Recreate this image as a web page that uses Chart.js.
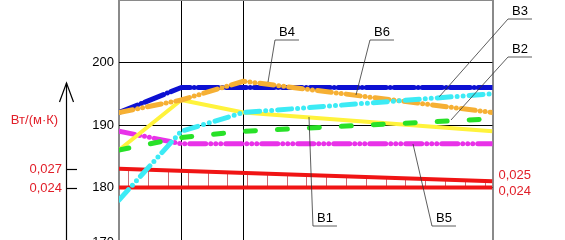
<!DOCTYPE html>
<html><head><meta charset="utf-8">
<script src="https://cdn.jsdelivr.net/npm/chart.js@4.4.1/dist/chart.umd.min.js"></script>
<style>html,body{margin:0;padding:0;background:#fff;overflow:hidden}#wrap{width:565px;height:240px;overflow:hidden;position:relative}canvas{display:block}</style>
</head><body><div id="wrap"><canvas id="c" width="565" height="250"></canvas></div>
<script>
// ---- data ----
const xPositions = [0, 1, 2, 6];
const seriesCyan = [178, 189, 192, 195];
const seriesOrange = [192, 194, 197, 192];
const seriesBlue = [192, 196, 196, 196];
const seriesGreen = [186, 188, 189, 191];
const seriesYellow = [186, 194, 192, 189];
const seriesMagenta = [189, 187, 187, 187];
const kX = [0, 6];
const kUpper = [0.027, 0.025];
const kLower = [0.024, 0.024];
const yTickValues = [170, 180, 190, 200, 210];
const xGridValues = [0, 1, 2, 6];
const hatchX = [0.15, 0.468, 0.786, 1.104, 1.422, 1.74, 2.058, 2.376, 2.694, 3.012, 3.33, 3.648, 3.966, 4.284, 4.602, 4.92, 5.238, 5.556, 5.874];
const unitLabel = 'Вт/(м·К)';
const calloutLabels = ['B4', 'B6', 'B3', 'B2', 'B1', 'B5'];
const calloutTargets = [[2.394, 196.88], [3.807, 194.8], [5.145, 194.53], [5.333, 190.8], [3.052, 191.28], [4.723, 186.96]];
const calloutElbows = [[2.506, 203.6], [4.032, 203.6], [6.249, 206.96], [6.249, 200.88], [3.116, 173.84], [5.028, 173.84]];

const FONT = '"Liberation Sans", Arial, sans-serif';
const RED_TXT = 'rgb(225,30,40)';
const fmtK = v => v.toFixed(3).replace('.', ',');
const pts = arr => xPositions.map((x, i) => ({x: x, y: arr[i]}));
const kpts = arr => kX.map((x, i) => ({x: x, y: arr[i]}));

const decor = {
  id: 'decor',
  beforeDatasetsDraw(chart) {
    const {ctx, scales: {x, k}} = chart;
    ctx.save();
    ctx.strokeStyle = 'rgb(205,105,115)';
    ctx.lineWidth = 1;
    const x0 = kX[0], x1 = kX[kX.length - 1];
    hatchX.forEach(v => {
      const t = (v - x0) / (x1 - x0);
      const top = kUpper[0] + (kUpper[1] - kUpper[0]) * t;
      const bot = kLower[0] + (kLower[1] - kLower[0]) * t;
      const px = Math.round(x.getPixelForValue(v)) + 0.5;
      ctx.beginPath();
      ctx.moveTo(px, k.getPixelForValue(bot));
      ctx.lineTo(px, k.getPixelForValue(top));
      ctx.stroke();
    });
    ctx.restore();
  },
  afterDraw(chart) {
    const {ctx, scales: {x, y, k}} = chart;
    ctx.save();
    // secondary (conductivity) axis
    const ax = 66.5;
    ctx.strokeStyle = '#000';
    ctx.lineWidth = 1.2;
    ctx.beginPath();
    ctx.moveTo(ax, 83); ctx.lineTo(ax, 260);
    ctx.stroke();
    ctx.beginPath();
    ctx.moveTo(59.5, 102); ctx.lineTo(ax, 83); ctx.lineTo(73.5, 102);
    ctx.stroke();
    ctx.font = '13px ' + FONT;
    ctx.textBaseline = 'middle';
    ctx.fillStyle = RED_TXT;
    [kUpper[0], kLower[0]].forEach(v => {
      const py = Math.round(k.getPixelForValue(v)) + 0.5;
      ctx.beginPath(); ctx.moveTo(ax, py); ctx.lineTo(77, py); ctx.stroke();
      ctx.textAlign = 'right';
      ctx.fillText(fmtK(v), 62, py);
    });
    ctx.textAlign = 'center';
    ctx.fillText(unitLabel, 34.5, 120);
    ctx.textAlign = 'left';
    const xr = x.getPixelForValue(kX[kX.length - 1]) + 6;
    ctx.fillText(fmtK(kUpper[kUpper.length - 1]), xr, k.getPixelForValue(kUpper[kUpper.length - 1]) - 6);
    ctx.fillText(fmtK(kLower[kLower.length - 1]), xr, k.getPixelForValue(kLower[kLower.length - 1]) + 3.5);
    // bottom tick label of main axis
    ctx.fillStyle = '#000';
    ctx.textAlign = 'right';
    ctx.fillText(String(yTickValues[0]), x.left - 5, y.getPixelForValue(yTickValues[0]) - 8);
    // callouts
    ctx.strokeStyle = '#333';
    ctx.lineWidth = 0.8;
    ctx.textAlign = 'left';
    ctx.textBaseline = 'alphabetic';
    calloutLabels.forEach((lab, i) => {
      const tx = x.getPixelForValue(calloutTargets[i][0]), ty = y.getPixelForValue(calloutTargets[i][1]);
      const ex = x.getPixelForValue(calloutElbows[i][0]), ey = y.getPixelForValue(calloutElbows[i][1]);
      ctx.beginPath();
      ctx.moveTo(tx, ty); ctx.lineTo(ex, ey); ctx.lineTo(ex + 24, ey);
      ctx.stroke();
      ctx.fillText(lab, ex + 4, ey - 4);
    });
    ctx.restore();
  }
};

const base = {pointRadius: 0, pointHoverRadius: 0, tension: 0, fill: false, borderJoinStyle: 'round'};

new Chart(document.getElementById('c'), {
  type: 'line',
  data: {
    datasets: [
      Object.assign({}, base, {label: 'B3', data: pts(seriesCyan), borderColor: 'rgb(60,235,245)', borderWidth: 5, borderCapStyle: 'round', borderDash: [14, 6, 0, 6, 0, 6]}),
      Object.assign({}, base, {label: 'B4', data: pts(seriesOrange), borderColor: 'rgb(246,176,52)', borderWidth: 5, borderCapStyle: 'round', borderDash: [14, 5, 0, 5, 0, 5]}),
      Object.assign({}, base, {label: 'B6', data: pts(seriesBlue), borderColor: 'rgb(12,16,210)', borderWidth: 5, borderCapStyle: 'round', borderDash: [20, 4, 0, 4]}),
      Object.assign({}, base, {label: 'B2', data: pts(seriesGreen), borderColor: 'rgb(40,225,40)', borderWidth: 5, borderCapStyle: 'round', borderDash: [10, 22]}),
      Object.assign({}, base, {label: 'B1', data: pts(seriesYellow), borderColor: 'rgb(255,243,60)', borderWidth: 4, borderCapStyle: 'butt'}),
      Object.assign({}, base, {label: 'B5', data: pts(seriesMagenta), borderColor: 'rgb(232,50,232)', borderWidth: 5, borderCapStyle: 'round', borderDash: [16, 5, 0, 5, 0, 5, 0, 5]}),
      Object.assign({}, base, {label: 'k1', data: kpts(kUpper), yAxisID: 'k', borderColor: 'rgb(240,20,20)', borderWidth: 4, borderCapStyle: 'butt'}),
      Object.assign({}, base, {label: 'k2', data: kpts(kLower), yAxisID: 'k', borderColor: 'rgb(240,20,20)', borderWidth: 4, borderCapStyle: 'butt'})
    ]
  },
  options: {
    responsive: false,
    animation: false,
    events: [],
    layout: {padding: {left: 0, right: 72.5, top: 0, bottom: 0}},
    plugins: {legend: {display: false}, tooltip: {enabled: false}},
    scales: {
      x: {
        type: 'linear', min: 0, max: 6,
        afterBuildTicks: s => { s.ticks = xGridValues.map(v => ({value: v})); },
        afterFit: s => { s.height = 0; s.paddingLeft = 0; s.paddingRight = 0; },
        ticks: {display: false},
        border: {display: false},
        grid: {
          drawTicks: false,
          color: c => (c.tick && (c.tick.value === xGridValues[0] || c.tick.value === xGridValues[xGridValues.length - 1])) ? '#8a8a8a' : '#000',
          lineWidth: c => (c.tick && (c.tick.value === xGridValues[0] || c.tick.value === xGridValues[xGridValues.length - 1])) ? 2 : 1
        }
      },
      y: {
        type: 'linear', position: 'left', min: 170, max: 210,
        afterBuildTicks: s => { s.ticks = yTickValues.map(v => ({value: v})); },
        afterFit: s => { s.width = 119; s.paddingTop = 0; s.paddingBottom = 0; },
        border: {display: false},
        ticks: {
          color: '#000', padding: 5, font: {family: FONT, size: 13},
          callback: v => (v === yTickValues[0] || v === yTickValues[yTickValues.length - 1]) ? '' : String(v)
        },
        grid: {
          drawTicks: false,
          color: c => (c.tick && c.tick.value === yTickValues[yTickValues.length - 1]) ? '#8a8a8a' : '#000',
          lineWidth: c => (c.tick && c.tick.value === yTickValues[yTickValues.length - 1]) ? 2 : 1
        }
      },
      k: {type: 'linear', display: false, min: 0.014, max: 0.054}
    }
  },
  plugins: [decor]
});
</script></body></html>
